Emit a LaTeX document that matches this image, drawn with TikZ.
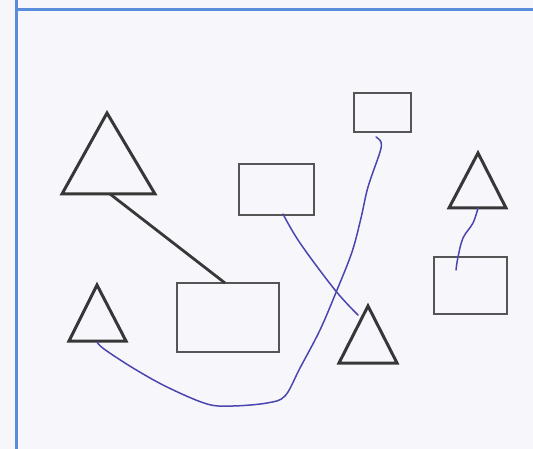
\documentclass[tikz,border=0pt]{standalone}
\begin{document}
\begin{tikzpicture}[x=1pt,y=-1pt,
  tri/.style={draw=tridark,line width=3pt,line join=miter},
  box/.style={draw=boxgray,line width=1.7pt,rectangle,inner sep=0pt},
  pencil/.style={draw=tridark,line width=2.8pt},
  ink/.style={draw=inkblue,line width=1.5pt,line cap=round,line join=round},
  frame/.style={draw=frameblue,line width=3pt}]
\definecolor{tridark}{RGB}{55,55,55}
\definecolor{boxgray}{RGB}{85,85,85}
\definecolor{inkblue}{RGB}{75,70,175}
\definecolor{frameblue}{RGB}{90,140,220}
\definecolor{paper}{RGB}{247,247,251}
\useasboundingbox (0,0) rectangle (533,449);
\fill[paper] (0,0) rectangle (533,449);
% frame
\draw[frame] (16,0) -- (16,449);
\draw[frame] (16,10) -- (533,10);
% rectangles
\node[box,minimum width=102pt,minimum height=69pt] (r1) at (228,317.5) {};
\node[box,minimum width=75pt,minimum height=51pt] (r2) at (276.5,189.5) {};
\node[box,minimum width=57pt,minimum height=39pt] (r3) at (382.5,112.5) {};
\node[box,minimum width=73pt,minimum height=57pt] (r4) at (470.5,285.5) {};
% triangles
\coordinate (t1a) at (107,113); \coordinate (t1l) at (62,194); \coordinate (t1r) at (155,194);
\draw[tri] (t1a) -- (t1l) -- (t1r) -- cycle;
\coordinate (t2a) at (97,285); \coordinate (t2l) at (69,341); \coordinate (t2r) at (126,341);
\draw[tri] (t2a) -- (t2l) -- (t2r) -- cycle;
\coordinate (t3a) at (478,153); \coordinate (t3l) at (449,208); \coordinate (t3r) at (506,208);
\draw[tri] (t3a) -- (t3l) -- (t3r) -- cycle;
\coordinate (t4a) at (368,306); \coordinate (t4l) at (339,363); \coordinate (t4r) at (397,363);
\draw[tri] (t4a) -- (t4l) -- (t4r) -- cycle;
% connector endpoints
\coordinate (t1b) at (110,194);
\coordinate (r1t) at (225,283);
\coordinate (r2b) at (283,214);
\coordinate (t4e) at (358,315);
\coordinate (r3b) at (376,137);
\coordinate (t2b) at (97,342);
\coordinate (t3b) at (478,208);
\coordinate (r4i) at (456,270);
% connectors
\draw[pencil] (t1b) -- (r1t);
\draw[ink] plot[smooth,tension=0.6] coordinates {(r2b) (300,243) (335,290) (t4e)};
\draw[ink] plot[smooth,tension=0.55] coordinates {(r3b) (381,142) (380,152) (368,187) (361,218) (352,252) (337,290) (320,330) (300,368) (285,396) (267,403) (233,406) (207,404) (167,387) (133,368) (104,349) (t2b)};
\draw[ink] plot[smooth,tension=0.6] coordinates {(t3b) (473,223) (463,238) (458,257) (r4i)};
\end{tikzpicture}
\end{document}
